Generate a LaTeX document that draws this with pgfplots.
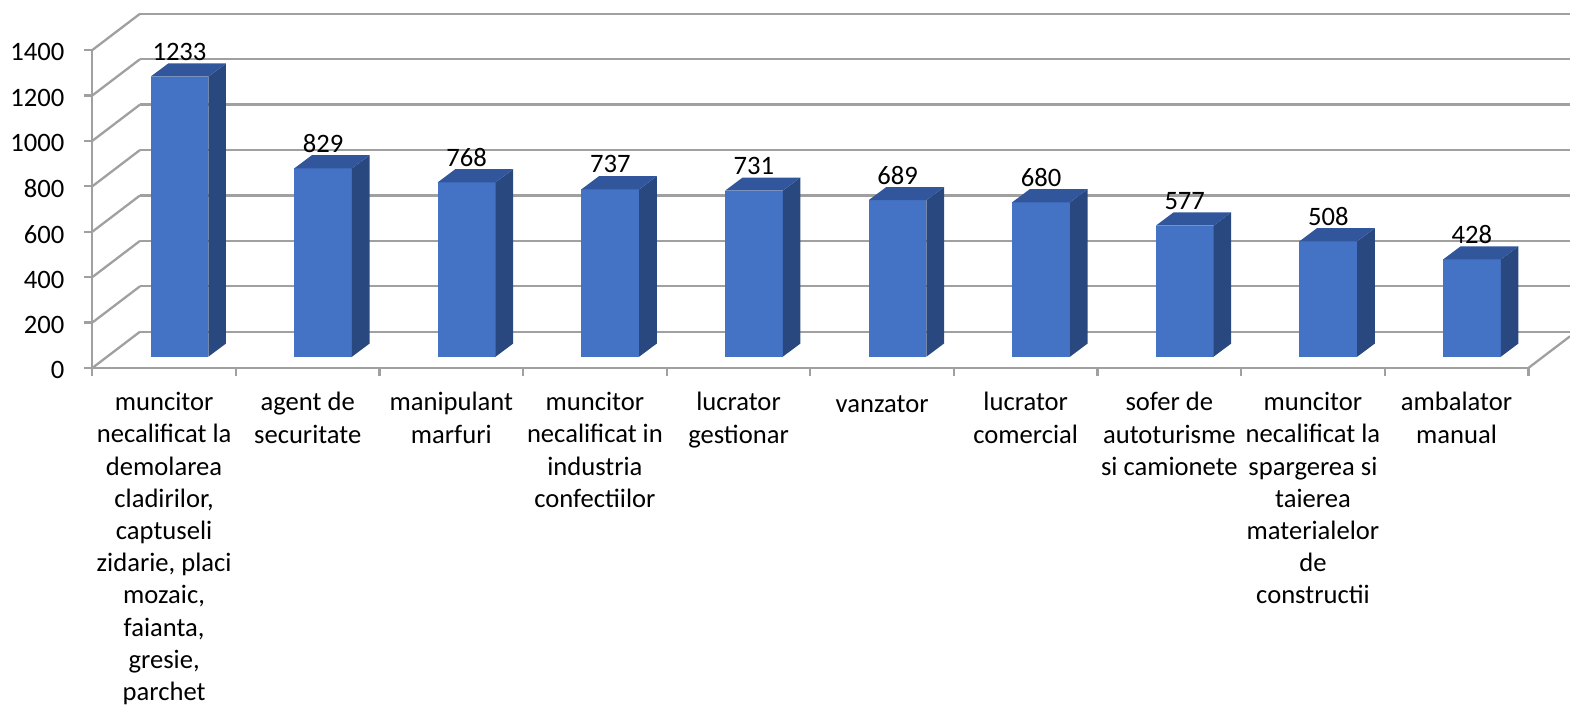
\documentclass[border=0pt]{standalone}
\usepackage{pgfplots}
\pgfplotsset{compat=1.18}
\usepackage{pgfplotstable}
\usepackage{fontspec}
\setmainfont{Carlito}
\definecolor{barfront}{HTML}{4472C4}
\definecolor{bartop}{HTML}{31569B}
\definecolor{barside}{HTML}{29487F}
\definecolor{gridc}{HTML}{A0A0A0}
\newcommand\lbl{\fontsize{13.3}{16.1}\selectfont}

\pgfplotstableread{
idx v
0 1233
1 829
2 768
3 737
4 731
5 689
6 680
7 577
8 508
9 428
}\datatab

\pgfplotstableread{
a b
0 0
1 0
1 1
0 1
}\unitsq

\begin{document}
\begin{tikzpicture}
\useasboundingbox (-46.15pt,-169pt) rectangle (738.85pt,184pt);
\begin{axis}[
  scale only axis,
  width=738.85pt, height=184pt,
  xmin=0, xmax=10.29, ymin=0, ymax=1620.4,
  clip=false,
  axis line style={draw=none},
  ytick={0,200,...,1400},
  ytick pos=left,
  xtick={0,...,10},
  xticklabels={,,,,,,,,,,},
  xtick pos=bottom,
  tick align=outside,
  major tick length=4pt,
  tick style={gridc, line width=1.15pt},
  tick label style={font=\lbl},
  /pgf/number format/assume math mode=true,
  /pgf/number format/1000 sep={},
  yticklabel style={anchor=east, xshift=-6.5pt, yshift=-1.2pt},
  extra x ticks={0.5,1.5,...,9.5},
  extra x tick labels={
    {muncitor\\necalificat la\\demolarea\\cladirilor,\\captuseli\\zidarie, placi\\mozaic,\\faianta,\\gresie,\\parchet},
    {agent de\\securitate},
    {manipulant\\marfuri},
    {muncitor\\necalificat in\\industria\\confectiilor},
    {lucrator\\gestionar},
    {vanzator},
    {lucrator\\comercial},
    {sofer de\\autoturisme\\si camionete},
    {muncitor\\necalificat la\\spargerea si\\taierea\\materialelor\\de\\constructii},
    {ambalator\\manual}},
  extra x tick style={major tick length=0pt, tick style={draw=none},
    xticklabel style={align=center, anchor=north, inner sep=0pt, yshift=-12pt,
      execute at begin node={\rule{0pt}{10pt}}}},
]
% left wall
\addplot[gridc, line width=1.15pt, unbounded coords=jump] coordinates {
 (0,0)(0.3322,159.8)(0.3322,nan)
 (0,200)(0.3322,359.8)(0.3322,nan)
 (0,400)(0.3322,559.8)(0.3322,nan)
 (0,600)(0.3322,759.8)(0.3322,nan)
 (0,800)(0.3322,959.8)(0.3322,nan)
 (0,1000)(0.3322,1159.8)(0.3322,nan)
 (0,1200)(0.3322,1359.8)(0.3322,nan)
 (0,1400)(0.3322,1559.8)
};
% back wall
\addplot[gridc, line width=1.15pt, unbounded coords=jump] coordinates {
 (0.3322,159.8)(10.29,159.8)(10.29,nan)
 (0.3322,359.8)(10.29,359.8)(10.29,nan)
 (0.3322,559.8)(10.29,559.8)(10.29,nan)
 (0.3322,759.8)(10.29,759.8)(10.29,nan)
 (0.3322,959.8)(10.29,959.8)(10.29,nan)
 (0.3322,1159.8)(10.29,1159.8)(10.29,nan)
 (0.3322,1359.8)(10.29,1359.8)(10.29,nan)
 (0.3322,1559.8)(10.29,1559.8)
};
% floor right edge and front axes
\addplot[gridc, line width=1.15pt] coordinates {(10,0)(10.29,139.5)};
\addplot[gridc, line width=1.15pt] coordinates {(0,1400)(0,0)(10,0)};
% bars
\pgfplotsinvokeforeach{0,...,9}{
  \pgfplotstablegetelem{#1}{v}\of\datatab
  \let\curv\pgfplotsretval
  \addplot[fill=barfront, draw=none] table[x expr={#1+0.4059+\thisrow{a}*0.4025}, y expr={49.8+\thisrow{b}*\curv}] {\unitsq};
  \addplot[fill=barside, draw=none] table[x expr={#1+0.8084+\thisrow{a}*0.1226}, y expr={49.8+\thisrow{b}*\curv+\thisrow{a}*58}] {\unitsq};
  \addplot[fill=bartop, draw=none] table[x expr={#1+0.4059+\thisrow{b}*0.4025+\thisrow{a}*0.1226}, y expr={49.8+\curv+\thisrow{a}*58}] {\unitsq};
}
% value labels
\addplot[draw=none, nodes near coords, point meta=explicit symbolic,
  every node near coord/.append style={anchor=center, font=\lbl, inner sep=0pt}]
  table[x expr=\coordindex+0.6071, y expr=\thisrow{v}+160, meta=v] {\datatab};
\end{axis}
\end{tikzpicture}
\end{document}
